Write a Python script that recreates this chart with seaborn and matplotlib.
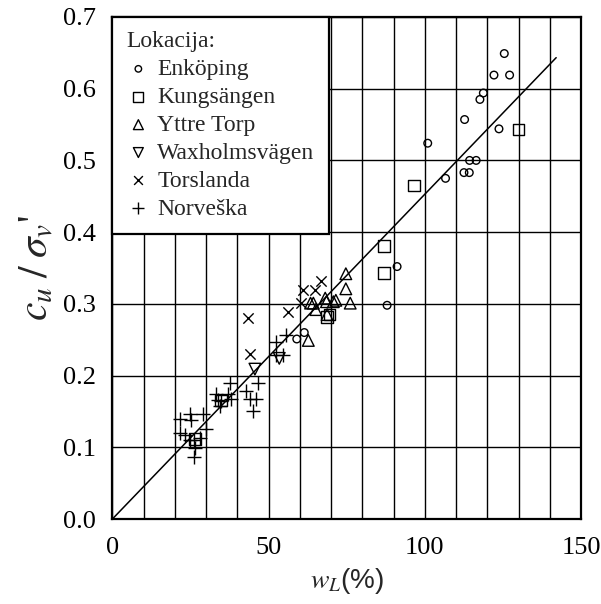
"""Undrained shear strength ratio vs liquid limit scatter chart."""

import matplotlib
matplotlib.use("Agg")
import matplotlib.pyplot as plt
import numpy as np
import seaborn as sns

# data: (w_L %, c_u / sigma_v')
enkoping_x = [125.4, 122.1, 127.1, 118.7, 117.6, 112.7, 123.7, 100.9, 114.3, 116.4,
              112.5, 114.2, 106.6, 91.1, 87.9, 61.4, 59.0]
enkoping_y = [0.649, 0.619, 0.619, 0.594, 0.585, 0.557, 0.544, 0.524, 0.500, 0.500,
              0.483, 0.483, 0.475, 0.352, 0.298, 0.260, 0.251]

kungsangen_x = [130.0, 96.6, 86.9, 86.9, 68.7, 69.5, 34.7, 26.5]
kungsangen_y = [0.543, 0.465, 0.381, 0.343, 0.282, 0.285, 0.165, 0.112]

yttre_x = [74.7, 74.7, 76.1, 70.7, 68.5, 63.4, 64.3, 65.1, 62.7, 68.1, 68.7, 71.5]
yttre_y = [0.342, 0.321, 0.301, 0.303, 0.303, 0.301, 0.301, 0.292, 0.249, 0.308, 0.285, 0.305]

waxholm_x = [45.6, 53.4]
waxholm_y = [0.209, 0.224]

torslanda_x = [43.3, 56.3, 60.9, 64.8, 66.9, 60.5, 44.0]
torslanda_y = [0.280, 0.289, 0.319, 0.319, 0.332, 0.301, 0.230]

norveska_x = [37.6, 46.7, 33.3, 37.1, 42.9, 33.9, 34.9, 38.1, 44.0, 45.9,
              45.1, 21.6, 24.8, 25.0, 29.1, 30.1, 21.7, 23.2, 24.8, 26.1,
              28.0, 26.4, 26.1, 34.3, 52.3, 55.7, 52.5, 54.5]
norveska_y = [0.190, 0.189, 0.175, 0.175, 0.178, 0.166, 0.164, 0.168, 0.168, 0.168,
              0.150, 0.139, 0.147, 0.138, 0.147, 0.126, 0.120, 0.117, 0.110, 0.110,
              0.113, 0.099, 0.086, 0.157, 0.247, 0.257, 0.229, 0.229]

# trend line through origin
trend_x = [0, 142]
trend_slope = 0.00453

sns.set_style("white")
plt.rcParams["font.family"] = ["Liberation Serif", "DejaVu Serif"]
plt.rcParams["mathtext.fontset"] = "stix"

fig = plt.figure(figsize=(6.01, 6.04), dpi=100)
ax = fig.add_axes([0.187, 0.1407, 0.78, 0.8312])

open_kw = dict(facecolor="none", edgecolor="black", linewidth=1.0, zorder=3)
sns.scatterplot(x=enkoping_x, y=enkoping_y, marker="o", s=30, label="Enköping", ax=ax, **open_kw)
sns.scatterplot(x=kungsangen_x, y=kungsangen_y, marker="s", s=70, label="Kungsängen", ax=ax, **open_kw)
sns.scatterplot(x=yttre_x, y=yttre_y, marker="^", s=70, label="Yttre Torp", ax=ax, **open_kw)
sns.scatterplot(x=waxholm_x, y=waxholm_y, marker="v", s=70, label="Waxholmsvägen", ax=ax, **open_kw)
sns.scatterplot(x=torslanda_x, y=torslanda_y, marker="x", s=55, color="black",
                linewidth=1.0, label="Torslanda", ax=ax, zorder=3)
sns.scatterplot(x=norveska_x, y=norveska_y, marker="+", s=100, color="black",
                linewidth=1.0, label="Norveška", ax=ax, zorder=3)

line_x = np.array(trend_x)
sns.lineplot(x=line_x, y=trend_slope * line_x, color="black", linewidth=1.1, ax=ax, zorder=2)

ax.set_xlim(0, 150)
ax.set_ylim(0, 0.7)
ax.set_xticks([0, 50, 100, 150])
ax.set_xticks(np.arange(0, 151, 10), minor=True)
ax.set_yticks(np.arange(0, 0.71, 0.1))
ax.set_yticklabels([f"{v:.1f}" for v in np.arange(0, 0.71, 0.1)])
ax.grid(True, which="both", color="black", linewidth=1.0, zorder=0)
ax.set_axisbelow(True)
ax.tick_params(which="both", length=0, labelsize=19, colors="black")
ax.tick_params(axis="x", pad=13)
ax.tick_params(axis="y", pad=12)
for spine in ax.spines.values():
    spine.set_color("black")
    spine.set_linewidth(1.6)

ax.set_xlabel("$w_L$(%)", fontsize=20, family=["Liberation Sans", "DejaVu Sans"], labelpad=5)
ax.set_ylabel(r"$c_u\;/\;\sigma_v$'", fontsize=30, labelpad=4)

leg = ax.legend(title="Lokacija:", loc="upper left", borderaxespad=0, fontsize=17,
                title_fontsize=17, frameon=True, fancybox=False, framealpha=1,
                edgecolor="black", alignment="left", handletextpad=0.3,
                labelspacing=0.27, borderpad=0.6, handlelength=1.0, markerscale=0.85)
leg.get_frame().set_linewidth(1.6)
leg.set_zorder(5)

fig.savefig("out.png", dpi=100)
plt.close(fig)
